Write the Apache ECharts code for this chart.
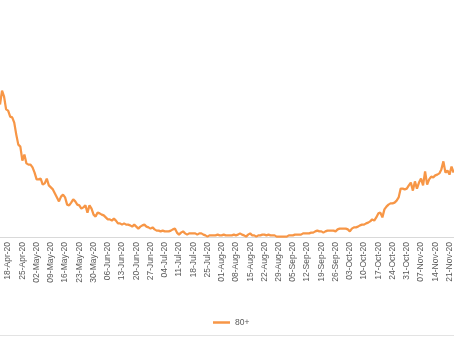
<!DOCTYPE html>
<html>
<head>
<meta charset="utf-8">
<script src="https://cdn.jsdelivr.net/npm/echarts@6/dist/echarts.min.js"></script>
<style>
  html, body { margin: 0; padding: 0; background: #ffffff; }
  #chart { width: 454px; height: 341px; }
</style>
</head>
<body>
<div id="chart"></div>
<script>
// Daily series, one value per day starting 14-Apr-2020
const startDate = Date.UTC(2020, 3, 14);
const seriesName = '80+';
const values80plus = [
  331, 366, 351, 319, 316, 301, 299, 286, 256, 231,
  226, 191, 206, 184, 181, 181, 174, 161, 144, 144,
  146, 131, 134, 146, 129, 124, 119, 109, 99, 89,
  101, 106, 99, 81, 79, 86, 94, 89, 81, 79,
  71, 74, 79, 61, 79, 71, 56, 51, 61, 59,
  56, 54, 49, 44, 44, 41, 46, 41, 34, 34,
  31, 34, 31, 31, 29, 26, 31, 26, 21, 26,
  29, 31, 26, 24, 21, 24, 19, 16, 16, 14,
  16, 14, 14, 14, 16, 19, 21, 11, 6, 11,
  14, 9, 6, 9, 9, 9, 9, 6, 9, 9,
  6, 4, 1, 4, 4, 4, 4, 6, 4, 4,
  6, 4, 4, 4, 4, 6, 4, 6, 9, 6,
  4, 1, 6, 9, 4, 4, 1, 4, 4, 6,
  6, 4, 6, 4, 4, 4, 1, 1, 1, 1,
  1, 1, 4, 4, 4, 6, 6, 6, 6, 9,
  9, 9, 9, 11, 11, 14, 16, 14, 14, 11,
  14, 16, 16, 16, 16, 14, 19, 21, 21, 21,
  21, 19, 14, 21, 24, 24, 26, 29, 31, 31,
  34, 36, 39, 44, 41, 49, 59, 61, 49, 69,
  76, 81, 84, 84, 86, 91, 99, 121, 121, 119,
  121, 129, 136, 116, 139, 121, 136, 146, 129, 164,
  131, 144, 151, 149, 154, 156, 159, 169, 189, 161,
  166, 156, 176, 161
];
const monthNames = ['Jan','Feb','Mar','Apr','May','Jun','Jul','Aug','Sep','Oct','Nov','Dec'];

// Build "DD-Mon-YY" category labels for each day
const dayLabels = values80plus.map((_, i) => {
  const d = new Date(startDate + i * 86400000);
  const dd = String(d.getUTCDate()).padStart(2, '0');
  const yy = String(d.getUTCFullYear()).slice(2);
  return dd + '-' + monthNames[d.getUTCMonth()] + '-' + yy;
});

// Weekly labels, aligned on Saturdays (18-Apr, 25-Apr, ...)
const firstLabelIndex = 4;
const labelStep = 7;

const chart = echarts.init(document.getElementById('chart'), null, { renderer: 'canvas' });
chart.setOption({
  animation: false,
  backgroundColor: '#ffffff',
  grid: { left: 0, right: 0, top: 37, height: 200, containLabel: false },
  xAxis: {
    type: 'category',
    data: dayLabels,
    boundaryGap: false,
    axisLine: { show: true, lineStyle: { color: '#d9d9d9', width: 1 } },
    axisTick: { show: false },
    axisLabel: {
      interval: (idx) => (idx - firstLabelIndex) % labelStep === 0,
      rotate: 90,
      margin: 5,
      color: '#595959',
      fontFamily: 'Liberation Sans, Arial, sans-serif',
      fontSize: 8.5
    },
    splitLine: { show: false }
  },
  yAxis: {
    type: 'value',
    show: false,
    min: 0,
    max: 500,
    splitLine: { show: false }
  },
  legend: {
    data: [seriesName],
    left: 213,
    top: 318,
    padding: 0,
    icon: 'rect',
    itemWidth: 17,
    itemHeight: 2.5,
    textStyle: { color: '#595959', fontSize: 8.5, fontFamily: 'Liberation Sans, Arial, sans-serif' }
  },
  graphic: [{
    type: 'line',
    shape: { x1: 0, y1: 335.5, x2: 454, y2: 335.5 },
    style: { stroke: '#e3e3e3', lineWidth: 1 }
  }],
  series: [{
    name: seriesName,
    type: 'line',
    data: values80plus,
    symbol: 'none',
    lineStyle: { color: '#F79646', width: 2.25 },
    itemStyle: { color: '#F79646' }
  }]
});
</script>
</body>
</html>
